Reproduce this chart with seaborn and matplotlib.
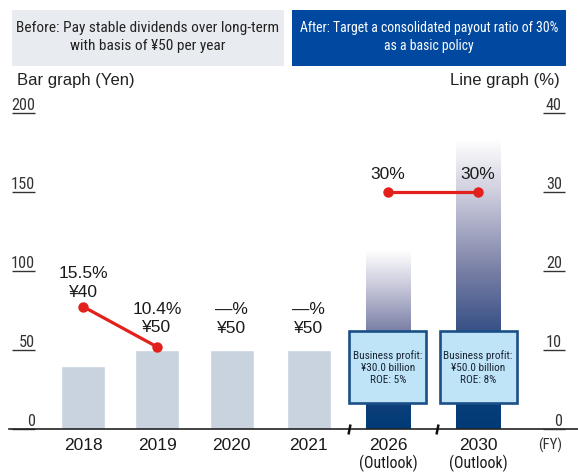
import numpy as np
import pandas as pd
import matplotlib
matplotlib.use("Agg")
import matplotlib.pyplot as plt
import seaborn as sns
from matplotlib import font_manager as fm
from matplotlib.patches import Rectangle
from matplotlib.colors import LinearSegmentedColormap
from matplotlib.markers import MarkerStyle
from matplotlib.transforms import Affine2D

# ---------------- data ----------------
years = ["2018", "2019", "2020", "2021", "2026", "2030"]
dividends = [40, 50, 50, 50, 113, 183]          # bar graph (Yen)
payout = [15.5, 10.4, np.nan, np.nan, 30, 30]   # line graph (%)
segment = ["before", "before", None, None, "after", "after"]
top_labels = ["15.5%\n¥40", "10.4%\n¥50", "—%\n¥50", "—%\n¥50", "30%", "30%"]
outlook_years = ["2026", "2030"]
box_texts = ["Business profit:\n¥30.0 billion\nROE: 5%",
             "Business profit:\n¥50.0 billion\nROE: 8%"]
left_ticks = [0, 50, 100, 150, 200]
right_ticks = [0, 10, 20, 30, 40]
header_before = "Before: Pay stable dividends over long-term\nwith basis of ¥50 per year"
header_after = "After: Target a consolidated payout ratio of 30%\nas a basic policy"
left_title = "Bar graph (Yen)"
right_title = "Line graph (%)"
fy_label = "(FY)"
outlook_label = "(Outlook)"

# ---------------- layout (not data) ----------------
x_pos = [0, 1, 2.01, 3.05, 4.12, 5.34]
label_offsets_pt = [4.8, 8.2, 10.4, 10.4, 7.3, 7.3]
fy_pos = 6.31
break_pos = [3.595, 4.78]

W, H = 578, 473
PX = 72 / 100  # points per pixel

sns.set_theme(style="white")
plt.rcParams["font.family"] = ["Liberation Sans", "DejaVu Sans"]

# ---- find a narrow / condensed sans font ----
ttf = fm.fontManager.ttflist
names = {f.name for f in ttf}
NARROW = None
for fam in ["Liberation Sans Narrow", "Arial Narrow", "Roboto Condensed",
            "Noto Sans Condensed", "Open Sans Condensed", "Nimbus Sans Narrow"]:
    if fam in names:
        NARROW = fm.FontProperties(family=[fam, "DejaVu Sans"])
        break
if NARROW is None:
    for fam in ["Noto Sans", "Roboto", "Open Sans", "Liberation Sans", "Lato", "Inter"]:
        for st in ["condensed", "semi-condensed", "extra-condensed"]:
            hits = [f for f in ttf if f.name == fam and str(f.stretch) == st
                    and f.style == "normal"]
            if hits:
                NARROW = fm.FontProperties(family=[fam, "DejaVu Sans"], stretch=st)
                break
        if NARROW is not None:
            break
if NARROW is None:
    NARROW = fm.FontProperties(family=["DejaVu Sans"], stretch="condensed")


def narrow(size):
    fp = NARROW.copy()
    fp.set_size(size)
    return fp


fig = plt.figure(figsize=(W / 100, H / 100), dpi=100)
fig.patch.set_facecolor("white")
ax = fig.add_axes([9 / W, (H - 429) / H, 569 / W, 316 / H])

df = pd.DataFrame({"year": years, "x": x_pos, "dividend": dividends,
                   "payout": payout, "segment": segment})

sns.barplot(data=df, x="x", y="dividend", native_scale=True, width=0.595,
            color="#C8D3DF", saturation=1, errorbar=None, ax=ax, zorder=2)

# gradient fill for outlook bars
cmap = LinearSegmentedColormap.from_list(
    "outlook", [(0.0, "#003B77"), (0.15, "#0F3F7A"), (0.32, "#314C83"),
                (0.55, "#7A80A6"), (0.8, "#C9C9DB"), (1.0, "#FFFFFF")])
grad = np.linspace(0, 1, 256).reshape(-1, 1)
bars = sorted(ax.patches, key=lambda p: p.get_x())
for i, p in enumerate(bars):
    if years[i] in outlook_years:
        p.set_facecolor("none")
        x0, w, h = p.get_x(), p.get_width(), p.get_height()
        im = ax.imshow(grad, origin="lower", aspect="auto", cmap=cmap,
                       extent=(x0, x0 + w, 0, h), zorder=2, interpolation="bilinear")
        im.set_clip_path(p)

fit_targets = []  # (text artist, target width px)

# business profit boxes
for yr, txt in zip(outlook_years, box_texts):
    xc = x_pos[years.index(yr)]
    ax.add_patch(Rectangle((xc - 0.52, 16.5), 1.04, 45.6, facecolor="#BFE3F7",
                           edgecolor="#1B4F87", lw=1.9, zorder=4))
    t = ax.text(xc, 39.2, txt, ha="center", va="center", color="#1A2533",
                fontproperties=narrow(10), linespacing=1.25, zorder=5)
    fit_targets.append((t, 69))

# value labels
for i, lab in enumerate(top_labels):
    anchor = payout[i] * 5 if not np.isnan(payout[i]) else dividends[i]
    ax.annotate(lab, xy=(x_pos[i], anchor), xytext=(0, label_offsets_pt[i]),
                textcoords="offset points", ha="center", va="bottom",
                fontsize=12.5, color="#1A1A1A", linespacing=1.3, zorder=6)

# line graph on twin axis
ax2 = ax.twinx()
sns.lineplot(data=df.dropna(subset=["payout"]), x="x", y="payout",
             units="segment", estimator=None, color="#E3211C", lw=2.3,
             marker="o", markersize=7.5, markeredgewidth=0, ax=ax2)

# axes limits
ax.set_xlim(-1.0, 6.689)
ax.set_ylim(0, 200)
ax2.set_ylim(0, 40)

# x axis
ax.set_xticks(x_pos + [fy_pos])
ax.set_xticklabels(years + [fy_label])
ax.tick_params(axis="x", length=0, pad=6.5, labelsize=12.5, labelcolor="#1A1A1A")
xt = ax.get_xticklabels()
xt[-1].set_fontproperties(narrow(12))
xt[-1].set_color("#333333")
fit_targets.append((xt[-1], 24))
for yr in outlook_years:
    t = ax.annotate(outlook_label, xy=(x_pos[years.index(yr)], 0),
                    xytext=(0, -34 * PX), textcoords="offset points",
                    ha="center", va="center", fontproperties=narrow(12),
                    color="#1A1A1A", annotation_clip=False)
    fit_targets.append((t, 58))

# break marks on baseline
for xb in break_pos:
    ax.plot([xb], [0], marker=MarkerStyle("|", transform=Affine2D().rotate_deg(-15)),
            markersize=8, mew=1.8, color="#111111", clip_on=False, zorder=7)

for s in ["top", "right", "left"]:
    ax.spines[s].set_visible(False)
ax.spines["bottom"].set_color("#222222")
ax.spines["bottom"].set_linewidth(1.2)
for s in ax2.spines.values():
    s.set_visible(False)

# left y axis (underlined labels)
ax.spines["left"].set_position(("axes", 3 / 569))
ax.set_yticks(left_ticks)
ax.set_yticklabels([str(v) for v in left_ticks])
ax.tick_params(axis="y", direction="in", length=23 * PX, width=1.0,
               color="#333333", pad=-23 * PX, labelcolor="#333333")
for lab in ax.get_yticklabels():
    lab.set_fontproperties(narrow(11.5))
    lab.set_va("bottom")

# right y axis
ax2.spines["right"].set_position(("axes", (565 - 9) / 569))
ax2.set_yticks(right_ticks)
ax2.set_yticklabels([str(v) for v in right_ticks])
ax2.tick_params(axis="y", direction="in", length=22 * PX, width=1.0,
                color="#333333", pad=-3 * PX, labelcolor="#333333")
for lab in ax2.get_yticklabels():
    lab.set_fontproperties(narrow(11.5))
    lab.set_va("bottom")
    lab.set_ha("right")

for a in (ax, ax2):
    a.set_xlabel("")
    a.set_ylabel("")
ax.grid(False)
ax2.grid(False)

# axis titles
fig.text(17 / W, 1 - 80 / H, left_title, ha="left", va="center", fontsize=12, color="#222222")
fig.text(560 / W, 1 - 80 / H, right_title, ha="right", va="center", fontsize=12, color="#222222")

# header boxes
fig.patches.append(Rectangle((12 / W, 1 - 66 / H), (284 - 12) / W, 56 / H,
                             transform=fig.transFigure, facecolor="#E8ECF0",
                             edgecolor="none", zorder=0))
fig.patches.append(Rectangle((292 / W, 1 - 66 / H), (566 - 292) / W, 56 / H,
                             transform=fig.transFigure, facecolor="#0048A0",
                             edgecolor="none", zorder=0))
t1 = fig.text(148 / W, 1 - 37 / H, header_before, ha="center", va="center",
              fontproperties=narrow(12), color="#222222", linespacing=1.35)
t2 = fig.text(429 / W, 1 - 37 / H, header_after, ha="center", va="center",
              fontproperties=narrow(12), color="white", linespacing=1.35)
fit_targets += [(t1, 264), (t2, 260)]

# ---- scale condensed texts to the widths seen in the reference ----
fig.canvas.draw()
r = fig.canvas.get_renderer()
for t, target in fit_targets:
    w = t.get_window_extent(r).width
    if w > 0:
        s = min(max(target / w, 0.6), 1.35)
        t.set_fontsize(t.get_fontsize() * s)
lab200 = ax.get_yticklabels()[-1]
w200 = lab200.get_window_extent(r).width
if w200 > 0:
    scale = min(max(24 / w200, 0.7), 1.3)
    for lab in list(ax.get_yticklabels()) + list(ax2.get_yticklabels()):
        lab.set_fontsize(lab.get_fontsize() * scale)

fig.savefig("out.png", dpi=100)
